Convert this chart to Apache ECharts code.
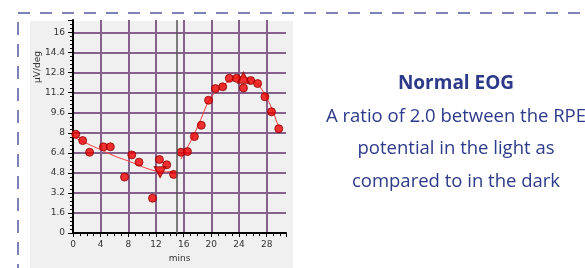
<!DOCTYPE html>
<html>
<head>
<meta charset="utf-8">
<script src="https://cdn.jsdelivr.net/npm/echarts@6/dist/echarts.min.js"></script>
<style>
  html, body { margin: 0; padding: 0; background: #fff; }
  #chart { width: 585px; height: 268px; }
</style>
</head>
<body>
<div id="chart"></div>
<script>
// measured EOG amplitudes (minutes, µV/deg)
const times = [0.4, 1.4, 2.4, 4.4, 5.4, 7.45, 8.5, 9.55, 11.5, 12.5, 13.55, 14.55, 15.6, 16.55, 17.55, 18.55, 19.6, 20.6, 21.65, 22.6, 23.65, 24.65, 25.7, 26.7, 27.75, 28.7, 29.75]
const amplitudes = [7.88, 7.38, 6.45, 6.88, 6.88, 4.47, 6.24, 5.66, 2.78, 5.87, 5.45, 4.68, 6.45, 6.5, 7.7, 8.6, 10.6, 11.53, 11.67, 12.35, 12.35, 11.58, 12.17, 11.93, 10.87, 9.68, 8.33]

// fitted curves, dark phase and light phase
const darkFitX = [0, 2, 4, 6, 8, 10, 11, 12, 13, 14, 14.6]
const darkFitY = [7.7, 7.15, 6.65, 6.15, 5.75, 5.3, 5.1, 4.95, 4.88, 4.9, 4.97]
const lightFitX = [15.6, 16.5, 17.4, 18.5, 19.5, 20.5, 21.5, 22.5, 23.5, 24.5, 25.5, 26.5, 27, 28, 28.7, 29.7]
const lightFitY = [5.9, 6.8, 7.75, 9.1, 10.4, 11.2, 11.7, 12.1, 12.38, 12.45, 12.3, 11.95, 11.7, 10.8, 10.0, 8.5]

// dark trough / light peak markers
const troughPoint = [12.6, 4.85]
const peakPoint = [24.65, 12.4]
const lightOnTime = 15

// axes
const yTickStep = 1.6
const yMax = 17
const xTickStep = 4
const xMax = 30.8

const titleText = 'Normal EOG'
const noteLines = ['A ratio of 2.0 between the RPE', 'potential in the light as', 'compared to in the dark']

const zip = (xs, ys) => xs.map((x, i) => [x, ys[i]])

const gridColor = '#84608a'
const navy = '#2d3a8a'
const dashColor = '#7d83b9'
const dotStyle = { color: '#f00000', borderColor: '#900000', borderWidth: 1 }

const chart = echarts.init(document.getElementById('chart'), null, { renderer: 'canvas' })

const option = {
  backgroundColor: '#fff',
  animation: false,
  grid: { left: 73, right: 299, top: 20, bottom: 34 },
  graphic: [
    // grey panel behind the plot
    { type: 'rect', z: -10, shape: { x: 30, y: 21, width: 263, height: 247 }, style: { fill: '#f0f0f0' } },
    // dashed frame
    { type: 'line', shape: { x1: 18, y1: 13, x2: 585, y2: 13 }, style: { stroke: dashColor, lineWidth: 2, lineDash: [12, 10] } },
    { type: 'line', shape: { x1: 18, y1: 22, x2: 18, y2: 268 }, style: { stroke: dashColor, lineWidth: 2, lineDash: [13, 9] } },
    // y axis name
    {
      type: 'text', x: 38, y: 67, rotation: Math.PI / 2,
      style: { text: 'µV/deg', fill: '#333', font: '9px "DejaVu Sans"', align: 'center', verticalAlign: 'middle' }
    },
    // note on the right
    {
      type: 'text', x: 456, y: 84,
      style: { text: titleText, fill: navy, font: 'bold 19px "Open Sans"', align: 'center', verticalAlign: 'middle' }
    },
    ...noteLines.map((t, i) => ({
      type: 'text', x: 456, y: 116.5 + i * 32.7,
      style: { text: t, fill: navy, font: '18.5px "Open Sans"', align: 'center', verticalAlign: 'middle' }
    }))
  ],
  xAxis: {
    type: 'value',
    min: 0,
    max: xMax,
    interval: xTickStep,
    name: 'mins',
    nameLocation: 'middle',
    nameGap: 19,
    nameTextStyle: { color: '#333', fontSize: 9, fontFamily: 'DejaVu Sans' },
    axisLine: { lineStyle: { color: '#000', width: 2 } },
    axisTick: { length: 4, lineStyle: { color: '#000' } },
    minorTick: { show: true, splitNumber: 4, length: 3, lineStyle: { color: '#000' } },
    axisLabel: { color: '#333', fontSize: 9, fontFamily: 'DejaVu Sans', margin: 7, showMaxLabel: false },
    splitLine: { show: true, showMinLine: false, showMaxLine: false, lineStyle: { color: gridColor, width: 2 } }
  },
  yAxis: {
    type: 'value',
    min: 0,
    max: yMax,
    interval: yTickStep,
    axisLine: { show: true, lineStyle: { color: '#000', width: 2 } },
    axisTick: { show: true, length: 5, lineStyle: { color: '#000' } },
    minorTick: { show: true, splitNumber: 5, length: 3, lineStyle: { color: '#000' } },
    axisLabel: { color: '#333', fontSize: 9, fontFamily: 'DejaVu Sans', margin: 8, showMaxLabel: false },
    splitLine: { show: true, showMinLine: false, showMaxLine: false, lineStyle: { color: gridColor, width: 2 } }
  },
  series: [
    {
      name: 'dark fit',
      type: 'line',
      data: zip(darkFitX, darkFitY),
      smooth: 0.4,
      symbol: 'none',
      lineStyle: { color: '#ff3b3b', width: 1 },
      z: 3,
      // light switched on
      markLine: {
        silent: true,
        symbol: 'none',
        label: { show: false },
        lineStyle: { color: '#555', width: 1.5, type: 'solid' },
        data: [{ xAxis: lightOnTime }]
      }
    },
    {
      name: 'light fit',
      type: 'line',
      data: zip(lightFitX, lightFitY),
      smooth: 0.4,
      symbol: 'none',
      lineStyle: { color: '#ff3b3b', width: 1 },
      z: 3
    },
    {
      name: 'EOG',
      type: 'scatter',
      data: zip(times, amplitudes),
      symbolSize: 8,
      itemStyle: dotStyle,
      z: 4
    },
    {
      name: 'trough',
      type: 'scatter',
      data: [troughPoint],
      symbol: 'triangle',
      symbolRotate: 180,
      symbolSize: [12, 11],
      itemStyle: dotStyle,
      z: 5
    },
    {
      name: 'peak',
      type: 'scatter',
      data: [peakPoint],
      symbol: 'triangle',
      symbolSize: [12, 11],
      itemStyle: dotStyle,
      z: 5
    }
  ]
}

chart.setOption(option)
</script>
</body>
</html>
